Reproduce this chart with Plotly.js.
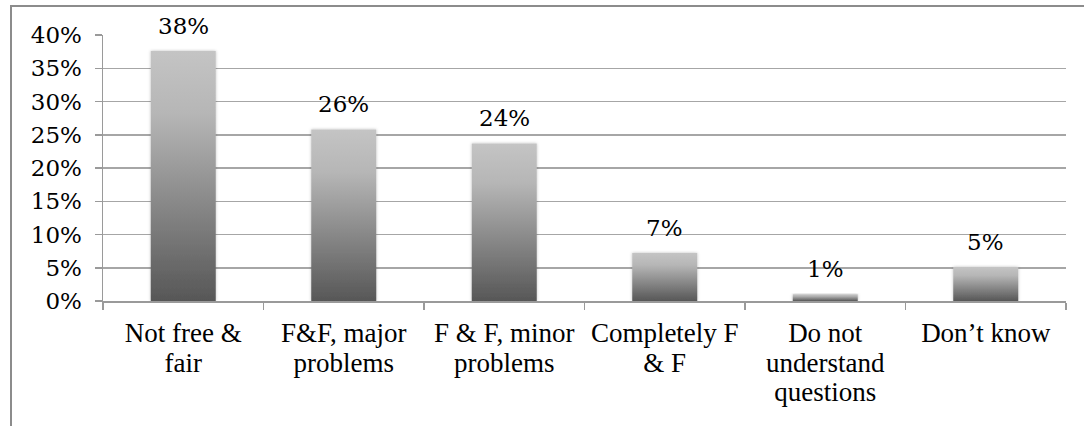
<!DOCTYPE html>
<html>
<head>
<meta charset="utf-8">
<script src="https://cdn.plot.ly/plotly-3.0.1.min.js"></script>
<style>
  html, body { margin: 0; padding: 0; background: #fff; }
  #wrap { position: relative; width: 1084px; height: 426px; overflow: hidden; }
  #chart { width: 1084px; height: 426px; }
  #frame { position: absolute; left: 10px; top: 5px; width: 1200px; height: 600px;
           border-left: 2px solid #8c8c8c; border-top: 2px solid #8c8c8c; pointer-events: none; }
</style>
</head>
<body>
<div id="wrap">
  <div id="chart"></div>
  <div id="frame"></div>
</div>
<script>
const categories = [
  "Not free &amp;<br>fair",
  "F&amp;F, major<br>problems",
  "F &amp; F, minor<br>problems",
  "Completely F<br>&amp; F",
  "Do not<br>understand<br>questions",
  "Don\u2019t know"
];
const values = [37.6, 25.8, 23.7, 7.2, 1.0, 5.1];
const labels = ["38%", "26%", "24%", "7%", "1%", "5%"];
const yTickVals = [0, 5, 10, 15, 20, 25, 30, 35, 40];
const yTickText = ["0%", "5%", "10%", "15%", "20%", "25%", "30%", "35%", "40%"];

const textFont = { family: "Liberation Serif, DejaVu Serif, serif", size: 27, color: "#000" };
const numFont = { family: "DejaVu Serif, Liberation Serif, serif", size: 23, color: "#000" };

const trace = {
  type: "bar",
  x: categories,
  y: values,
  marker: { color: "#8a8a8a", line: { width: 0 } },
  hoverinfo: "none"
};

const annotations = categories.map((c, i) => ({
  x: c, y: values[i], xref: "x", yref: "y",
  text: labels[i], showarrow: false,
  yanchor: "middle", yshift: 25,
  font: numFont
}));

const layout = {
  width: 1084, height: 426,
  margin: { l: 103, r: 18, t: 35, b: 125 },
  paper_bgcolor: "#fff", plot_bgcolor: "#fff",
  font: textFont,
  showlegend: false,
  bargap: 0.595,
  xaxis: {
    type: "category",
    tickson: "boundaries",
    ticks: "outside", ticklen: 7, tickcolor: "#9a9a9a", tickwidth: 1.5,
    showline: true, linecolor: "#9a9a9a", linewidth: 1.5,
    showgrid: false,
    ticklabelstandoff: 7,
    tickfont: textFont,
    fixedrange: true
  },
  yaxis: {
    range: [0, 40],
    tickvals: yTickVals, ticktext: yTickText,
    ticks: "outside", ticklen: 7, tickcolor: "#9a9a9a", tickwidth: 1.5,
    showline: true, linecolor: "#9a9a9a", linewidth: 1.5,
    showgrid: true, gridcolor: "#a6a6a6", gridwidth: 1.5,
    zeroline: false,
    ticklabelstandoff: 8,
    tickfont: numFont,
    fixedrange: true
  },
  annotations: annotations
};

Plotly.newPlot("chart", [trace], layout, { displayModeBar: false, staticPlot: true }).then(gd => {
  const NS = "http://www.w3.org/2000/svg";
  const defs = gd.querySelector("svg.main-svg defs");
  const grad = document.createElementNS(NS, "linearGradient");
  grad.setAttribute("id", "barGrad");
  grad.setAttribute("x1", "0"); grad.setAttribute("y1", "0");
  grad.setAttribute("x2", "0"); grad.setAttribute("y2", "1");
  [["0", "#c4c4c4"], ["0.25", "#b6b6b6"], ["1", "#575757"]].forEach(([o, c]) => {
    const s = document.createElementNS(NS, "stop");
    s.setAttribute("offset", o);
    s.setAttribute("stop-color", c);
    grad.appendChild(s);
  });
  defs.appendChild(grad);
  const filt = document.createElementNS(NS, "filter");
  filt.setAttribute("id", "barShadow");
  filt.setAttribute("x", "-20%"); filt.setAttribute("y", "-20%");
  filt.setAttribute("width", "140%"); filt.setAttribute("height", "140%");
  const ds = document.createElementNS(NS, "feDropShadow");
  ds.setAttribute("dx", "0"); ds.setAttribute("dy", "0");
  ds.setAttribute("stdDeviation", "1.5");
  ds.setAttribute("flood-color", "#000"); ds.setAttribute("flood-opacity", "0.25");
  filt.appendChild(ds);
  defs.appendChild(filt);
  gd.querySelectorAll(".barlayer .point path").forEach(p => {
    p.style.fill = "url(#barGrad)";
    p.setAttribute("filter", "url(#barShadow)");
  });
  // tighter line spacing for multi-line category labels
  gd.querySelectorAll(".xtick text tspan.line").forEach(t => {
    const dy = parseFloat(t.getAttribute("dy"));
    if (dy > 0) t.setAttribute("dy", (dy / 1.3 * 1.1) + "em");
  });
});
</script>
</body>
</html>
